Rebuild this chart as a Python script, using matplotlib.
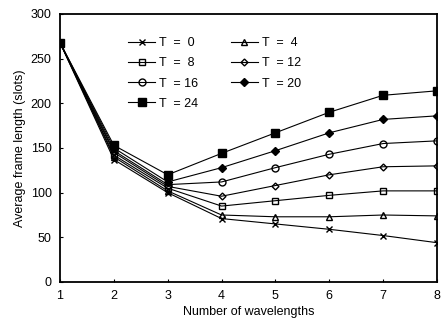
import numpy as np
import matplotlib
matplotlib.use('Agg')
import matplotlib.pyplot as plt

plt.rcParams['font.family'] = ['Liberation Sans', 'DejaVu Sans']

wavelengths = [1, 2, 3, 4, 5, 6, 7, 8]
t0 = [268, 137, 100, 71, 65, 59, 52, 44]
t4 = [268, 140, 102, 75, 73, 73, 75, 74]
t8 = [268, 142, 105, 85, 91, 97, 102, 102]
t12 = [268, 145, 107, 96, 108, 120, 129, 130]
t16 = [268, 147, 109, 112, 128, 143, 155, 158]
t20 = [268, 150, 112, 128, 147, 167, 182, 186]
t24 = [268, 153, 120, 144, 167, 190, 209, 214]

series = [
    ('T  =  0', t0, 'x', 'k', 5),
    ('T  =  4', t4, '^', 'none', 4.5),
    ('T  =  8', t8, 's', 'none', 5),
    ('T  = 12', t12, 'D', 'none', 3.5),
    ('T  = 16', t16, 'o', 'none', 5),
    ('T  = 20', t20, 'D', 'k', 4),
    ('T  = 24', t24, 's', 'k', 5.5),
]

fig = plt.figure(figsize=(4.43, 3.24), dpi=100)
ax = fig.add_axes([60 / 443, 42 / 324, 377 / 443, 268 / 324])

handles = {}
for name, vals, m, fc, ms in series:
    h, = ax.plot(wavelengths, vals, color='k', lw=0.8, marker=m, ms=ms,
                 mfc=fc, mec='k', mew=1.0, label=name)
    handles[name] = h

order = ['T  =  0', 'T  =  8', 'T  = 16', 'T  = 24', 'T  =  4', 'T  = 12', 'T  = 20']
ax.legend([handles[n] for n in order], order, ncol=2, frameon=False,
          loc='upper left', bbox_to_anchor=(0.15, 0.955), fontsize=9,
          handlelength=2.2, handletextpad=0.3, columnspacing=2.6,
          labelspacing=0.65)

ax.set_xlim(1, 8)
ax.set_ylim(0, 300)
ax.set_xticks(wavelengths)
ax.set_yticks(np.arange(0, 301, 50))
ax.tick_params(direction='in', length=2, labelsize=9, pad=6)
ax.set_xlabel('Number of wavelengths', fontsize=9, labelpad=3)
ax.set_ylabel('Average frame length (slots)', fontsize=9, labelpad=3)
for s in ax.spines.values():
    s.set_linewidth(1.3)

fig.savefig('out.png', dpi=100)
